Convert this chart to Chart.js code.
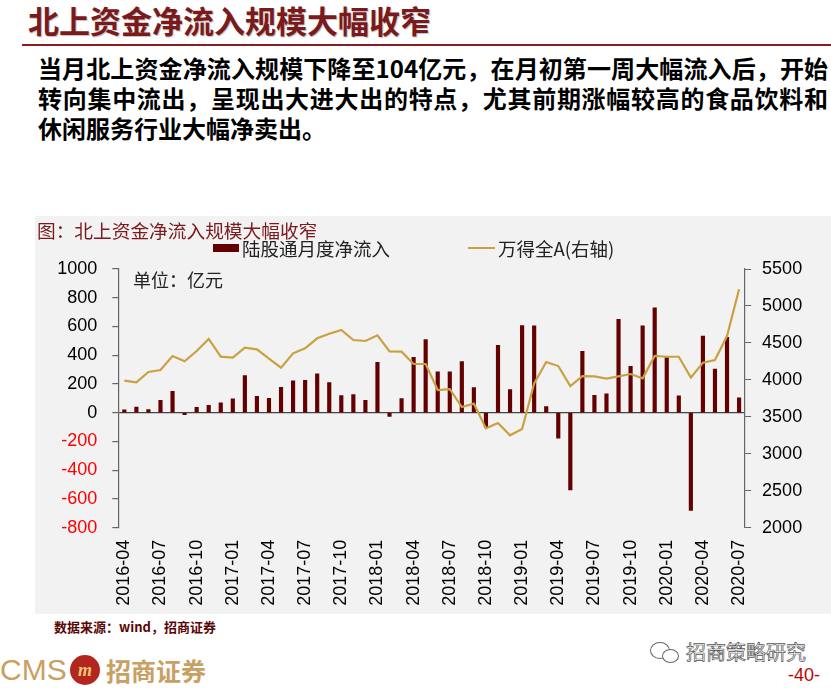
<!DOCTYPE html>
<html>
<head>
<meta charset="utf-8">
<script src="https://cdn.jsdelivr.net/npm/chart.js@4.4.1/dist/chart.umd.min.js"></script>
<style>
  html, body { margin: 0; padding: 0; background: #fff; }
  body { width: 831px; height: 688px; position: relative; overflow: hidden; font-family: "Noto Sans CJK SC", sans-serif; }
  .abs { position: absolute; white-space: nowrap; }
  #title { left: 28px; top: 2px; font-size: 31px; line-height: 36px; font-weight: 700; color: #7b1a1c; text-shadow: 1px 1px 1px rgba(0,0,0,0.25); }
  #rule { left: 22px; top: 44px; width: 809px; height: 2px; background: #8c1c1e; }
  .body { left: 38px; width: 790px; font-size: 24px; line-height: 30px; font-weight: 700; color: #000; }
  .just { text-align: justify; text-align-last: justify; }
  #panel { left: 35px; top: 216px; width: 796px; height: 398px; background: #f2f2f2; }
  #caption { left: 37px; top: 218px; font-size: 18.7px; line-height: 24px; color: #7b1a1c; }
  .leg { font-size: 18.5px; line-height: 24px; color: #222; }
  #unit { left: 133px; top: 267px; font-size: 18px; line-height: 24px; color: #222; }
  #source { left: 54px; top: 618px; font-size: 13px; line-height: 18px; font-weight: 700; color: #5a0606; }
  #cms { left: 0px; top: 652px; font-family: "Liberation Sans", sans-serif; font-size: 30px; line-height: 36px; color: #c9a063; }
  #logo { left: 70px; top: 655px; width: 30px; height: 30px; border-radius: 50%; background: #b3261e; color: #f0c674; font: italic 700 18px/30px "Liberation Serif", serif; text-align: center; }
  #cmsname { left: 106px; top: 652px; font-size: 25px; line-height: 36px; font-weight: 700; color: #c9a063; }
  #wx { left: 686px; top: 639px; font-size: 20px; line-height: 26px; color: #fff; -webkit-text-stroke: 0.7px #555; }
  #page { left: 788px; top: 663px; font-family: "Liberation Sans", sans-serif; font-size: 18px; line-height: 24px; color: #c00000; }
</style>
</head>
<body>
<div class="abs" id="title">北上资金净流入规模大幅收窄</div>
<div class="abs" id="rule"></div>
<div class="abs body just" style="top:53px">当月北上资金净流入规模下降至104亿元，在月初第一周大幅流入后，开始</div>
<div class="abs body just" style="top:83px">转向集中流出，呈现出大进大出的特点，尤其前期涨幅较高的食品饮料和</div>
<div class="abs body" style="top:113px">休闲服务行业大幅净卖出。</div>

<div class="abs" id="panel"><canvas id="chart1"></canvas></div>
<div class="abs" id="caption">图：北上资金净流入规模大幅收窄</div>
<div class="abs" style="left:213px;top:244px;width:26px;height:8px;background:#640000"></div>
<div class="abs leg" style="left:242px;top:236px">陆股通月度净流入</div>
<div class="abs" style="left:468px;top:247px;width:27px;height:2px;background:#c9a23f"></div>
<div class="abs leg" style="left:498px;top:236px">万得全A(右轴)</div>
<div class="abs" id="unit">单位：亿元</div>

<div class="abs" id="source">数据来源：wind，招商证券</div>
<div class="abs" id="cms">CMS</div>
<div class="abs" id="logo">m</div>
<div class="abs" id="cmsname">招商证券</div>
<div class="abs" style="left:650px;top:642px;width:18px;height:15px;border:1.5px solid #666;border-radius:50%"></div>
<div class="abs" style="left:662px;top:649px;width:15px;height:12px;border:1.5px solid #666;border-radius:50%;background:#fff"></div>
<div class="abs" id="wx">招商策略研究</div>
<div class="abs" id="page">-40-</div>

<script>
// months on the x axis
const months = ['2016-04','2016-05','2016-06','2016-07','2016-08','2016-09','2016-10','2016-11','2016-12',
  '2017-01','2017-02','2017-03','2017-04','2017-05','2017-06','2017-07','2017-08','2017-09','2017-10','2017-11','2017-12',
  '2018-01','2018-02','2018-03','2018-04','2018-05','2018-06','2018-07','2018-08','2018-09','2018-10','2018-11','2018-12',
  '2019-01','2019-02','2019-03','2019-04','2019-05','2019-06','2019-07','2019-08','2019-09','2019-10','2019-11','2019-12',
  '2020-01','2020-02','2020-03','2020-04','2020-05','2020-06','2020-07']

// 陆股通月度净流入 (亿元)
const netInflow = [20, 40, 21, 86, 149, -14, 37, 51, 68,
  96, 259, 114, 100, 177, 222, 226, 271, 210, 119, 126, 86,
  350, -26, 98, 385, 509, 285, 285, 355, 175, -100, 469, 161,
  607, 604, 42, -177, -537, 427, 121, 131, 649, 322, 604, 730,
  383, 117, -679, 534, 303, 525, 104]

// 万得全A (右轴)
const windA = [3989, 3967, 4106, 4133, 4323, 4251, 4390, 4553, 4314,
  4300, 4435, 4413, 4286, 4165, 4359, 4427, 4562, 4625, 4675, 4539, 4526,
  4603, 4386, 4381, 4215, 4215, 3863, 3876, 3633, 3678, 3344, 3416, 3250,
  3335, 3953, 4242, 4187, 3917, 4052, 4048, 4016, 4048, 4079, 4021, 4323,
  4313, 4313, 4030, 4232, 4269, 4593, 5225]

const leftTicks = [-800, 1000, 200]   // min, max, step
const rightTicks = [2000, 5500, 500]

const tickFont = { family: 'Liberation Sans', size: 18 }
const plain = v => String(v)   // no thousands separator

const ctx = document.getElementById('chart1').getContext('2d')
const chart1 = new Chart(ctx, {
  type: 'bar',
  data: {
    labels: months,
    datasets: [
      {
        label: '陆股通月度净流入',
        data: netInflow,
        backgroundColor: '#640000',
        borderWidth: 0,
        barThickness: 3.5,
        yAxisID: 'y',
        order: 2
      },
      {
        type: 'line',
        label: '万得全A(右轴)',
        data: windA,
        borderColor: '#c9a23f',
        borderWidth: 2.2,
        pointRadius: 0,
        tension: 0,
        yAxisID: 'y1',
        order: 1
      }
    ]
  },
  options: {
    responsive: true,
    maintainAspectRatio: false,
    animation: false,
    layout: { padding: { top: 53, left: 0, right: 0, bottom: 0 } },
    plugins: { legend: { display: false }, tooltip: { enabled: false } },
    scales: {
      x: {
        grid: { display: false, drawTicks: false, tickLength: 0 },
        border: { display: false },
        afterFit: s => { s.height = 86.3 },
        ticks: {
          autoSkip: false,
          maxRotation: 90,
          minRotation: 90,
          padding: 12,
          color: '#000',
          font: tickFont,
          callback: function (v, i) { return i % 3 === 0 ? months[i] : '' }
        }
      },
      y: {
        position: 'left',
        min: leftTicks[0],
        max: leftTicks[1],
        afterFit: s => { s.width = 83.3 },
        border: { display: true, color: '#666', width: 1.2 },
        grid: {
          color: c => (c.tick && c.tick.value === 0) ? '#444' : 'rgba(0,0,0,0)',
          lineWidth: 1.2,
          tickColor: '#666',
          tickLength: 6
        },
        ticks: {
          stepSize: leftTicks[2],
          padding: 15,
          font: tickFont,
          callback: plain,
          color: c => c.tick.value < 0 ? '#ff0000' : '#000'
        }
      },
      y1: {
        position: 'right',
        min: rightTicks[0],
        max: rightTicks[1],
        afterFit: s => { s.width = 85.9 },
        border: { display: true, color: '#666', width: 1.2 },
        grid: { drawOnChartArea: false, tickColor: '#666', tickLength: 6 },
        ticks: { stepSize: rightTicks[2], padding: 11, font: tickFont, callback: plain, color: '#000' }
      }
    }
  }
})
</script>
</body>
</html>
